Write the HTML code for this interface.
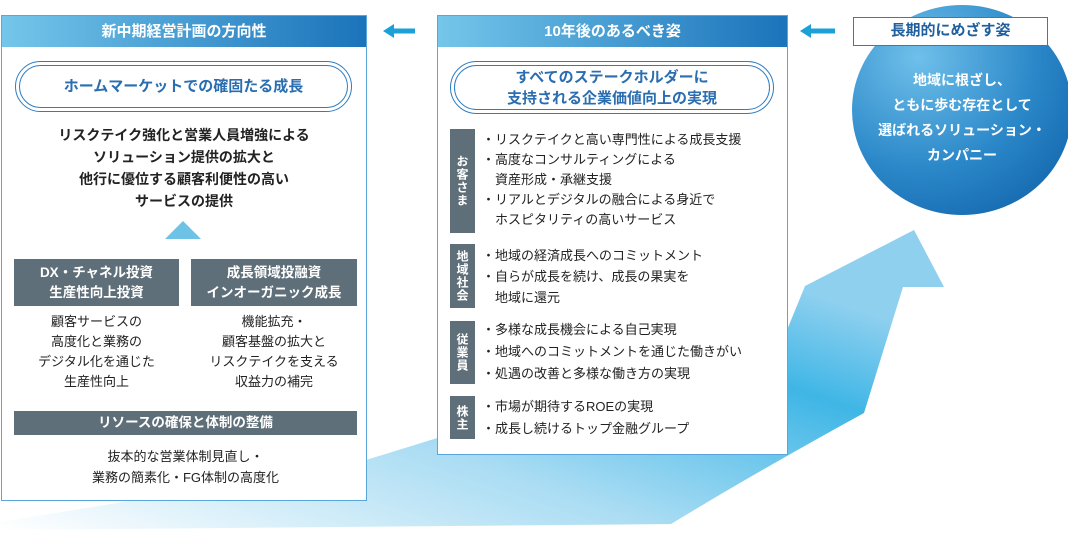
<!DOCTYPE html>
<html><head><meta charset="utf-8"><style>
body{margin:0;width:1068px;height:539px;background:#fff;overflow:hidden;position:relative;font-family:"Liberation Sans","Noto Sans CJK JP",sans-serif;}
.a{position:absolute;}
.panel{position:absolute;background:#fff;border:1.5px solid #5aa6dc;box-sizing:border-box;}
.hdr{position:absolute;left:0;top:0;right:0;height:31px;background:linear-gradient(90deg,#74c6ea,#1b73ba);color:#fff;font-size:15px;font-weight:bold;text-align:center;line-height:31px;}
.pill{position:absolute;border:1.5px solid #2f7cc0;border-radius:30px;box-sizing:border-box;}
.pill>div{position:absolute;left:3px;top:3px;right:3px;bottom:3px;border:1.5px solid #2f7cc0;border-radius:27px;color:#2a6db0;font-weight:bold;font-size:15px;display:flex;align-items:center;justify-content:center;text-align:center;line-height:21px;}
.dk{position:absolute;background:#5f6f79;color:#fff;font-weight:bold;font-size:13.5px;text-align:center;}
.c{position:absolute;text-align:center;color:#222;font-size:13px;}
.lab{position:absolute;left:12px;width:25px;background:#5f6f79;color:#fff;font-size:12px;font-weight:bold;writing-mode:vertical-rl;text-orientation:upright;display:flex;align-items:center;justify-content:center;letter-spacing:1px;}
.li{position:absolute;left:44px;font-size:13px;color:#222;line-height:20px;white-space:nowrap;}
</style></head><body>
<svg class="a" style="left:0;top:0" width="1068" height="539">
<defs>
<linearGradient id="g" x1="0" y1="1" x2="0.85" y2="0.2">
<stop offset="0" stop-color="#ffffff"/><stop offset="0.45" stop-color="#a9dcf3"/><stop offset="0.8" stop-color="#3fb6e6"/><stop offset="1" stop-color="#8fd0ef"/></linearGradient>
<radialGradient id="cg" cx="0.3" cy="0.25" r="0.9"><stop offset="0" stop-color="#6fc0ea"/><stop offset="0.6" stop-color="#2a87c8"/><stop offset="1" stop-color="#1466ad"/></radialGradient>
</defs>
<path d="M0,522 Q200,490 366,460 L787,330 L805,286 L914,230 L944,287 L903,287 L864,413 Q760,470 671,524 L0,530 Z" fill="url(#g)"/>
<ellipse cx="962" cy="110" rx="110" ry="105" fill="url(#cg)"/>
<polygon points="383,31 394,24 394,28.5 415,28.5 415,33.5 394,33.5 394,38" fill="#1ba0d8"/>
<polygon points="800,31 811,24 811,28.5 835,28.5 835,33.5 811,33.5 811,38" fill="#1ba0d8"/>
</svg>

<div class="panel" style="left:1px;top:15px;width:366px;height:486px;">
<div class="hdr">新中期経営計画の方向性</div>
<div class="pill" style="left:13px;top:45px;width:337px;height:51px;"><div>ホームマーケットでの確固たる成長</div></div>
<div class="c" style="left:0;width:364px;top:108px;font-size:14px;font-weight:bold;line-height:22px;">リスクテイク強化と営業人員増強による<br>ソリューション提供の拡大と<br>他行に優位する顧客利便性の高い<br>サービスの提供</div>
<svg class="a" style="left:163px;top:205px" width="36" height="18"><polygon points="18,0 36,18 0,18" fill="#6dc2e6"/></svg>
<div class="dk" style="left:12px;top:243px;width:165px;height:47px;line-height:20px;padding-top:4px;box-sizing:border-box;">DX・チャネル投資<br>生産性向上投資</div>
<div class="dk" style="left:189px;top:243px;width:166px;height:47px;line-height:20px;padding-top:4px;box-sizing:border-box;">成長領域投融資<br>インオーガニック成長</div>
<div class="c" style="left:12px;width:165px;top:296px;line-height:20px;">顧客サービスの<br>高度化と業務の<br>デジタル化を通じた<br>生産性向上</div>
<div class="c" style="left:189px;width:166px;top:296px;line-height:20px;">機能拡充・<br>顧客基盤の拡大と<br>リスクテイクを支える<br>収益力の補完</div>
<div class="dk" style="left:12px;top:395px;width:343px;height:24px;line-height:24px;">リソースの確保と体制の整備</div>
<div class="c" style="left:12px;width:343px;top:430px;line-height:21px;">抜本的な営業体制見直し・<br>業務の簡素化・FG体制の高度化</div>
</div>

<div class="panel" style="left:437px;top:15px;width:351px;height:440px;">
<div class="hdr">10年後のあるべき姿</div>
<div class="pill" style="left:12px;top:45px;width:324px;height:53px;"><div>すべてのステークホルダーに<br>支持される企業価値向上の実現</div></div>
<div class="lab" style="top:113px;height:104px;">お客さま</div>
<div class="li" style="top:114px;">・リスクテイクと高い専門性による成長支援<br>・高度なコンサルティングによる<br>　資産形成・承継支援<br>・リアルとデジタルの融合による身近で<br>　ホスピタリティの高いサービス</div>
<div class="lab" style="top:228px;height:64px;">地域社会</div>
<div class="li" style="top:229px;line-height:21px;">・地域の経済成長へのコミットメント<br>・自らが成長を続け、成長の果実を<br>　地域に還元</div>
<div class="lab" style="top:305px;height:63px;">従業員</div>
<div class="li" style="top:303px;line-height:22px;">・多様な成長機会による自己実現<br>・地域へのコミットメントを通じた働きがい<br>・処遇の改善と多様な働き方の実現</div>
<div class="lab" style="top:380px;height:43px;">株主</div>
<div class="li" style="top:380px;line-height:22px;">・市場が期待するROEの実現<br>・成長し続けるトップ金融グループ</div>
</div>

<div class="a" style="left:853px;top:17px;width:195px;height:29px;background:#fff;border:1.5px solid #2f7cc0;box-sizing:border-box;color:#1f5fa0;font-weight:bold;font-size:15px;text-align:center;line-height:26px;">長期的にめざす姿</div>
<div class="a" style="left:852px;top:68px;width:220px;text-align:center;color:#fff;font-weight:bold;font-size:14px;line-height:25px;">地域に根ざし、<br>ともに歩む存在として<br>選ばれるソリューション・<br>カンパニー</div>
</body></html>
